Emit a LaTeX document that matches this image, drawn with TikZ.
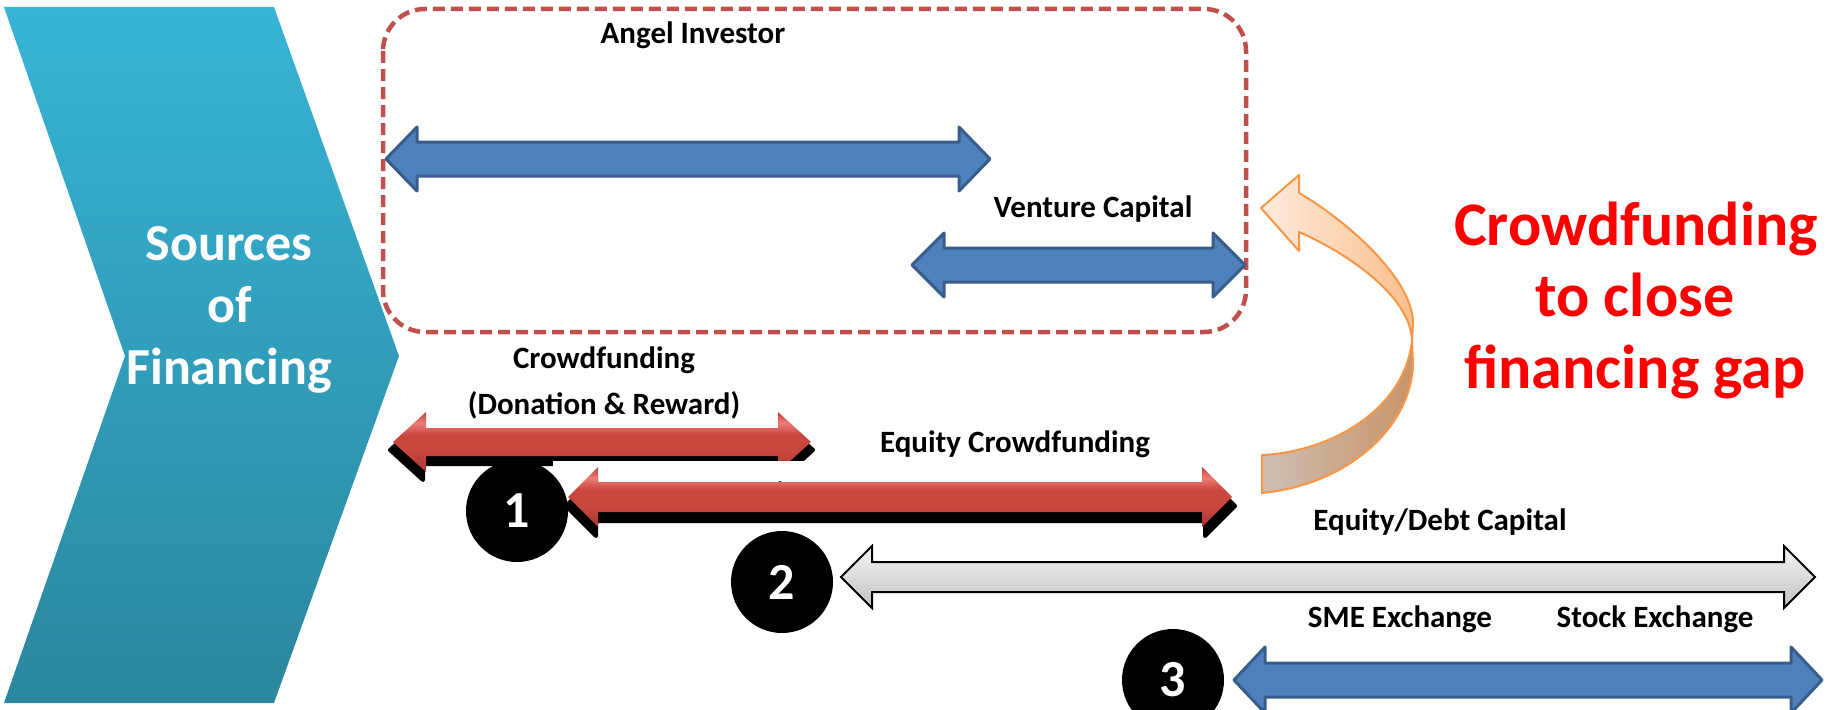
\documentclass[tikz,border=0pt]{standalone}
\usepackage{fontspec}
\setmainfont{Carlito}
\definecolor{chevtop}{HTML}{38B4D6}
\definecolor{chevbot}{HTML}{2A879E}
\definecolor{dashred}{HTML}{C0504D}
\definecolor{bluefill}{HTML}{4F81BD}
\definecolor{blueline}{HTML}{385D8A}
\definecolor{grayT}{HTML}{F4F4F4}
\definecolor{grayB}{HTML}{C2C2C2}
\definecolor{gapred}{HTML}{FF0000}
\definecolor{orline}{HTML}{F79646}
\definecolor{upL}{HTML}{FDEBDD}
\definecolor{upR}{HTML}{FBC08E}
\definecolor{loL}{HTML}{CDBFB3}
\definecolor{loR}{HTML}{C9956A}
\definecolor{rE}{HTML}{B8403C}
\definecolor{rL}{HTML}{EE7B76}
\definecolor{rU}{HTML}{D85A55}
\definecolor{rM}{HTML}{C8473F}
\definecolor{rD}{HTML}{A63532}
\pgfdeclareverticalshading{redbar}{100bp}{color(0bp)=(rD); color(25bp)=(rD); color(42bp)=(rM); color(56bp)=(rM); color(66bp)=(rL); color(71bp)=(rU); color(75bp)=(rE); color(100bp)=(rE)}
% double arrow path: x-left tip, x-right tip, y centre, head length, head half height, shaft half height
\newcommand{\dblarrowpath}[6]{(#1,#3) -- ({#1+#4},{#3-#5}) -- ({#1+#4},{#3-#6}) -- ({#2-#4},{#3-#6}) -- ({#2-#4},{#3-#5}) -- (#2,#3) -- ({#2-#4},{#3+#5}) -- ({#2-#4},{#3+#6}) -- ({#1+#4},{#3+#6}) -- ({#1+#4},{#3+#5}) -- cycle}
\begin{document}
\begin{tikzpicture}[x=1pt,y=-1pt,
  lbl/.style={font=\fontsize{31}{37}\selectfont\bfseries, text=black, inner sep=0pt, anchor=base},
  srctext/.style={font=\fontsize{52}{62}\selectfont\bfseries, text=white, inner sep=0pt, anchor=base},
  gaptext/.style={font=\fontsize{62}{74}\selectfont\bfseries, text=gapred, inner sep=0pt, anchor=base},
  bignum/.style={circle, fill=black, minimum size=102pt, inner sep=0pt, text=white, font=\fontsize{52}{62}\selectfont\bfseries},
  bluearrow/.style={fill=bluefill, draw=blueline, line width=3pt, line join=round},
  grayarrow/.style={top color=grayT, bottom color=grayB, draw=black, line width=2pt},
  redarrow/.style={shading=redbar},
  redshadow/.style={fill=black, draw=black, line width=4pt, line join=round},
  upband/.style={left color=upL, right color=upR, draw=orline, line width=2pt, line join=round},
  lowband/.style={left color=loL, right color=loR, draw=orline, line width=2pt, line join=round},
]
\useasboundingbox (0,0) rectangle (1835,709);
\fill[white] (0,0) rectangle (1835,709);

% chevron
\shade[top color=chevtop, bottom color=chevbot] (4,7) -- (274,7) -- (399,356) -- (274,703) -- (4,703) -- (125,356) -- cycle;
\node[srctext] (src1) at (229,260) {Sources};
\node[srctext] (src2) at (230,322) {of};
\node[srctext] (src3) at (229,384) {Financing};

% dashed group box
\draw[dashred, line width=4.5pt, dash pattern=on 12pt off 6pt, rounded corners=42pt] (383,9) rectangle (1246,332);

% angel investor & venture capital
\path[bluearrow] \dblarrowpath{386}{990}{159}{31}{32}{17};
\node[lbl] (angel) at (693,44) {Angel Investor};
\path[bluearrow] \dblarrowpath{912}{1245}{265}{32}{32}{17};
\node[lbl] (vc) at (1093,217) {Venture Capital};

% orange curved arrow
\path[upband] (1261,208) -- (1299,175) -- (1299,193) .. controls (1349,222) and (1413,280) .. (1413,323) -- (1412,340) .. controls (1410,295) and (1345,252) .. (1299,232) -- (1299,251) -- cycle;
\path[lowband] (1262,455) .. controls (1330,452) and (1405,410) .. (1412,340) -- (1413,365) .. controls (1410,430) and (1345,485) .. (1262,493) -- cycle;

% crowdfunding (donation & reward)
\node[lbl] (cf1) at (604,368) {Crowdfunding};
\node[lbl] (cf2) at (604,414) {(Donation \& Reward)};
\path[redshadow] \dblarrowpath{390}{813}{450}{33}{30}{14};
\path[redarrow] \dblarrowpath{393}{811}{442}{33}{30}{14};
\fill[white] (553,461) rectangle (840,481);

% equity crowdfunding
\node[lbl] (ecf) at (1015,452) {Equity Crowdfunding};
\path[redshadow] \dblarrowpath{566}{1235}{506}{30}{30}{15};
\path[redarrow] \dblarrowpath{568}{1232}{497}{30}{30}{15};

% equity / debt capital
\node[lbl] (edc) at (1440,530) {Equity/Debt Capital};
\path[grayarrow] \dblarrowpath{841}{1815}{577}{31}{31}{15};

% exchanges
\node[lbl] (sme) at (1400,627) {SME Exchange};
\node[lbl] (stock) at (1655,627) {Stock Exchange};
\path[bluearrow] \dblarrowpath{1234}{1822}{680}{31}{33}{17};

% numbered circles
\node[bignum] (n1) at (517,511) {1};
\node[bignum] (n2) at (782,582) {2};
\node[bignum] (n3) at (1173,680) {3};

% financing gap statement
\node[gaptext] (gap1) at (1636,245) {Crowdfunding};
\node[gaptext] (gap2) at (1635,316) {to close};
\node[gaptext] (gap3) at (1635,388) {financing gap};
\end{tikzpicture}
\end{document}
